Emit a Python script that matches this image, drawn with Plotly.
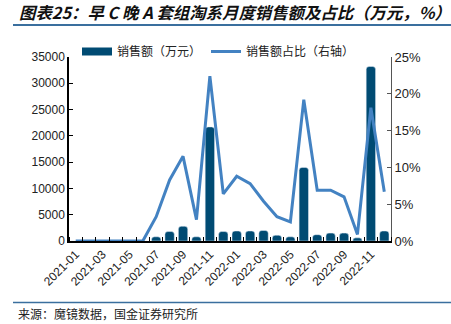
import plotly.graph_objects as go

months = ["2021-01","2021-02","2021-03","2021-04","2021-05","2021-06","2021-07","2021-08",
          "2021-09","2021-10","2021-11","2021-12","2022-01","2022-02","2022-03","2022-04",
          "2022-05","2022-06","2022-07","2022-08","2022-09","2022-10","2022-11","2022-12"]
sales = [0, 0, 0, 0, 0, 0, 800, 1800, 2800, 800, 21700, 1800,
         1900, 1900, 2000, 1100, 800, 14000, 1200, 1500, 1500, 600, 33200, 1900]
share = [0, 0, 0, 0, 0, 0, 3.3, 8.3, 11.5, 2.9, 22.4, 6.4,
         8.8, 7.8, 5.4, 3.3, 2.6, 19.2, 6.9, 6.9, 6.0, 0.9, 18.1, 6.7]
left_ticks = [0, 5000, 10000, 15000, 20000, 25000, 30000, 35000]
right_ticks = [0, 5, 10, 15, 20, 25]

BAR_COLOR = "#004b73"
LINE_COLOR = "#4382c2"

idx = list(range(len(months)))
L, R, T, B = 69, 391, 57, 241
W, H = 451, 324
def px(x): return (x - L) / (R - L)
def py(y): return (B - y) / (B - T)

fig = go.Figure()
fig.add_trace(go.Bar(x=idx, y=sales, name="销售额（万元）", marker_color=BAR_COLOR,
                     width=0.7, yaxis="y", showlegend=False, legendgroup="a"))
# legend entry drawn as a wide rounded swatch like the reference
fig.add_trace(go.Scatter(x=[None], y=[None], name="销售额（万元）", mode="lines",
                         line=dict(color=BAR_COLOR, width=8), legendgroup="a", legendrank=1))
fig.add_trace(go.Scatter(x=idx, y=share, name="销售额占比（右轴）", mode="lines",
                         line=dict(color=LINE_COLOR, width=3), yaxis="y2", legendrank=2))

fig.update_layout(
    width=W, height=H,
    margin=dict(l=L, r=W - R, t=T, b=H - B, pad=0),
    paper_bgcolor="white", plot_bgcolor="white",
    barcornerradius=3,
    showlegend=True,
    legend=dict(orientation="h", x=px(77), y=py(37), xanchor="left", yanchor="top",
                font=dict(family="Noto Sans CJK SC", size=12, color="#222"),
                itemwidth=30, tracegroupgap=0, bgcolor="rgba(0,0,0,0)"),
    xaxis=dict(range=[-0.5, len(months) - 0.5], tickmode="array",
               tickvals=idx[::2], ticktext=months[::2], tickangle=-45, ticks="",
               showline=True, linecolor="black", linewidth=1.5, showgrid=False, zeroline=False,
               tickfont=dict(family="Liberation Sans", size=12, color="#222"),
               minor=dict(tickmode="array", tickvals=[i - 0.5 for i in idx] + [len(months) - 0.5],
                          ticks="inside", ticklen=4, tickcolor="black", showgrid=False)),
    yaxis=dict(range=[0, 35000], tickmode="array", tickvals=left_ticks,
               ticktext=[str(v) for v in left_ticks],
               ticks="inside", ticklen=4, tickcolor="black",
               showline=True, linecolor="black", linewidth=1.5, showgrid=False, zeroline=False,
               tickfont=dict(family="Liberation Sans", size=12, color="#222")),
    yaxis2=dict(range=[0, 25], overlaying="y", side="right", tickmode="array",
                tickvals=right_ticks, ticktext=[f"{v}%" for v in right_ticks],
                ticks="inside", ticklen=4, tickcolor="#555",
                showline=True, linecolor="#555", linewidth=1, showgrid=False, zeroline=False,
                tickfont=dict(family="Liberation Sans", size=13, color="#222")),
    shapes=[
        dict(type="line", xref="paper", yref="paper", x0=px(13), x1=px(451), y0=py(25), y1=py(25),
             line=dict(color="#3a6f9e", width=2)),
        dict(type="line", xref="paper", yref="paper", x0=px(13), x1=px(451), y0=py(302.5), y1=py(302.5),
             line=dict(color="#3a6f9e", width=1.5)),
    ],
    annotations=[
        dict(text="<b><i>图表25：早 C 晚 A 套组淘系月度销售额及占比（万元，%）</i></b>",
             xref="paper", yref="paper", x=px(17), y=py(12), xanchor="left", yanchor="middle",
             showarrow=False, font=dict(family="Noto Sans CJK SC", size=16.4, color="#111")),
        dict(text="来源：魔镜数据，国金证券研究所", xref="paper", yref="paper",
             x=px(16), y=py(313), xanchor="left", yanchor="middle", showarrow=False,
             font=dict(family="Noto Sans CJK SC", size=12, color="#222")),
    ],
)
fig.write_html("out.html")
